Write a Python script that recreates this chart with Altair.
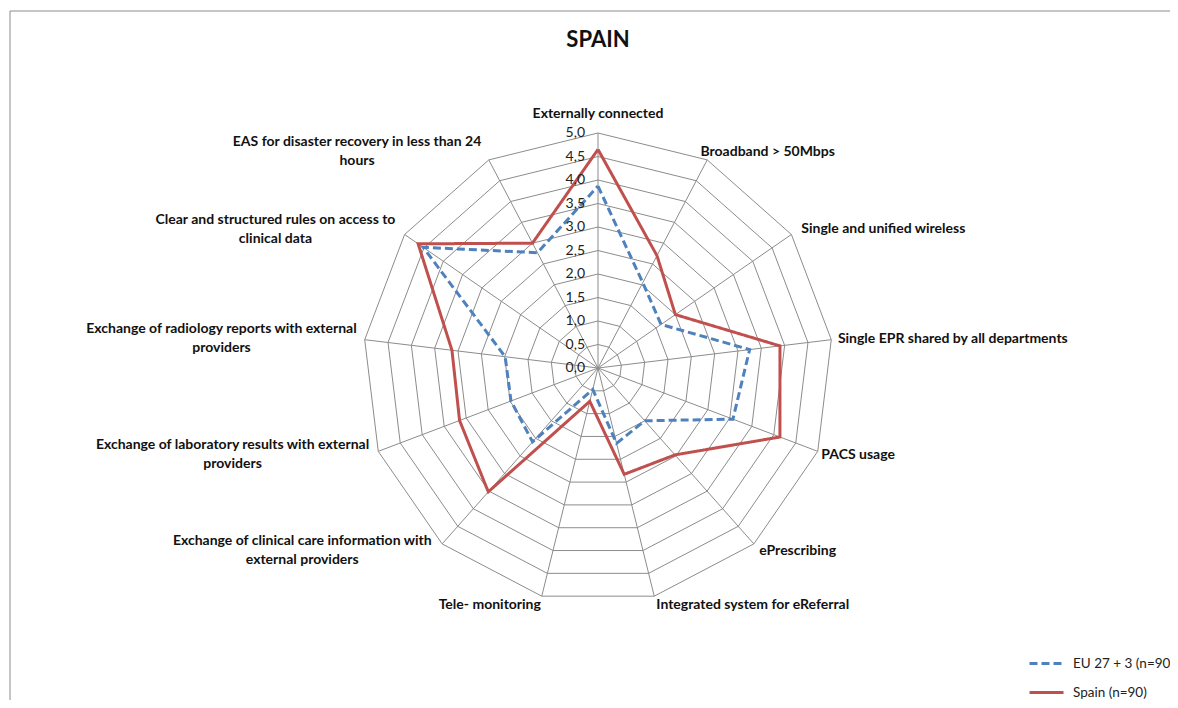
import altair as alt
import pandas as pd

# ---------------- data ----------------
categories = [
    "Externally connected",
    "Broadband > 50Mbps",
    "Single and unified wireless",
    "Single EPR shared by all departments",
    "PACS usage",
    "ePrescribing",
    "Integrated system for eReferral",
    "Tele- monitoring",
    "Exchange of clinical  care information with\nexternal providers",
    "Exchange of laboratory results with external\nproviders",
    "Exchange of radiology reports with external\nproviders",
    "Clear and structured rules on access to\nclinical data",
    "EAS for disaster recovery in less than 24\nhours",
]
eu_values = [3.87, 2.05, 1.63, 3.25, 3.07, 1.5, 1.65, 0.47, 2.1, 1.98, 1.99, 4.52, 2.77]
spain_values = [4.65, 2.7, 2.0, 3.9, 4.14, 2.47, 2.33, 0.73, 3.52, 3.15, 3.13, 4.65, 3.0]
series_names = ["EU 27 + 3  (n=906)", "Spain (n=90)"]
series_colors = ["#4F81BD", "#C0504D"]
tick_values = [0.0, 0.5, 1.0, 1.5, 2.0, 2.5, 3.0, 3.5, 4.0, 4.5, 5.0]
tick_labels = ["0,0", "0,5", "1,0", "1,5", "2,0", "2,5", "3,0", "3,5", "4,0", "4,5", "5,0"]

N = len(categories)
RMAX = 5.0
PX = 47.0            # pixels per unit
W, H = 1162, 692
CX, CY = 590, 360    # centre in plot pixels
LH = 19              # label line height
CW = 6.2             # approx label char width
xs = alt.Scale(domain=[-CX / PX, (W - CX) / PX], nice=False, zero=False)
ys = alt.Scale(domain=[-(H - CY) / PX, CY / PX], nice=False, zero=False)
ANG = f"datum.idx*2*PI/{N}"

# ---------------- tables ----------------
rows = []
for name, vals in zip(series_names, [eu_values, spain_values]):
    for i in range(N + 1):
        rows.append({"series": name, "idx": i, "value": vals[i % N]})
series_df = pd.DataFrame(rows)

ring_df = pd.DataFrame([{"level": lv, "idx": i} for lv in tick_values[1:] for i in range(N + 1)])
spoke_df = pd.DataFrame({"idx": list(range(N))})
tick_df = pd.DataFrame({"v": tick_values, "lab": tick_labels})
lab_df = pd.DataFrame({
    "idx": list(range(N)),
    "lab": categories,
    "maxlen": [max(len(s) for s in c.split("\n")) for c in categories],
    "nlines": [len(c.split("\n")) for c in categories],
})

X = lambda f: alt.X(f, scale=xs, axis=None)
Y = lambda f: alt.Y(f, scale=ys, axis=None)

rings = alt.Chart(ring_df).transform_calculate(
    rx=f"datum.level*sin({ANG})", ry=f"datum.level*cos({ANG})"
).mark_line(color="#8C8C8C", strokeWidth=1).encode(
    x=X("rx:Q"), y=Y("ry:Q"), detail="level:N", order="idx:Q"
)

spokes = alt.Chart(spoke_df).transform_calculate(
    sx0="0", sy0="0", sx=f"{RMAX}*sin({ANG})", sy=f"{RMAX}*cos({ANG})"
).mark_rule(color="#8C8C8C", strokeWidth=1).encode(
    x=X("sx0:Q"), y=Y("sy0:Q"), x2="sx:Q", y2="sy:Q"
)

ticks = alt.Chart(tick_df).transform_calculate(tx="0").mark_text(
    align="right", baseline="middle", dx=-13, fontSize=14, font="Lato", color="#222222"
).encode(x=X("tx:Q"), y=Y("v:Q"), text="lab:N")

leg = alt.Legend(
    orient="none", legendX=1020, legendY=637, title=None, symbolType="stroke",
    symbolSize=1156, symbolStrokeWidth=3, labelFontSize=13.5, labelFont="Lato",
    labelOffset=8, rowPadding=4, padding=0, labelColor="#222222",
)
lines = alt.Chart(series_df).transform_calculate(
    px=f"datum.value*sin({ANG})", py=f"datum.value*cos({ANG})"
).mark_line(strokeWidth=3).encode(
    x=X("px:Q"), y=Y("py:Q"),
    color=alt.Color("series:N", scale=alt.Scale(domain=series_names, range=series_colors), legend=leg),
    strokeDash=alt.StrokeDash("series:N", scale=alt.Scale(domain=series_names, range=[[8, 4], [1, 0]]), legend=leg),
    order="idx:Q",
)

labels = alt.Chart(lab_df).transform_calculate(
    s=f"sin({ANG})", c=f"cos({ANG})"
).transform_calculate(
    lx=f"{RMAX}*datum.s + (abs(datum.s)<0.01 ? 0 : (datum.s>0?1:-1)*(10*abs(datum.s) + datum.maxlen*{CW}/2)/{PX})",
    ly=f"(abs(datum.s)<0.01 ? {RMAX} + 19/{PX} : {RMAX}*datum.c + datum.c*9/{PX}) + (datum.nlines-1)*{LH}/2/{PX}",
).mark_text(
    align="center", baseline="middle", fontSize=14, font="Lato", fontWeight="bold",
    lineBreak="\n", lineHeight=LH, color="#111111"
).encode(x=X("lx:Q"), y=Y("ly:Q"), text="lab:N")

title = alt.Chart(pd.DataFrame({"t": ["SPAIN"]})).mark_text(
    fontSize=22, font="Lato", fontWeight="bold", align="center", baseline="middle", color="#111111"
).encode(x=alt.value(CX), y=alt.value(32), text="t:N")

frame_df = pd.DataFrame({"k": [0]})
frame_top = alt.Chart(frame_df).mark_rule(color="#8C8C8C", strokeWidth=1).encode(
    x=alt.value(2), x2=alt.value(W), y=alt.value(3)
)
frame_left = alt.Chart(frame_df).mark_rule(color="#8C8C8C", strokeWidth=1).encode(
    x=alt.value(2), y=alt.value(3), y2=alt.value(H)
)

chart = alt.layer(
    frame_top, frame_left, rings, spokes, lines, ticks, labels, title
).properties(
    width=W, height=H, autosize=alt.AutoSizeParams(type="none"), padding=0, background="white"
).configure_view(stroke=None)

chart.save("out.html", embed_options={"renderer": "svg", "actions": False})
